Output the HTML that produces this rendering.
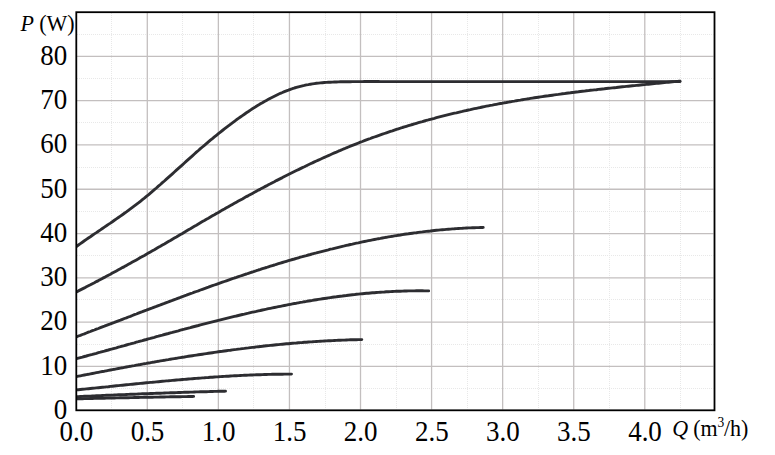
<!DOCTYPE html>
<html><head><meta charset="utf-8"><style>
html,body{margin:0;padding:0;background:#fff;}
svg{display:block;}
.t{font-family:"Liberation Serif",serif;font-size:27px;fill:#000;}
.u{font-family:"Liberation Serif",serif;font-size:22px;fill:#000;}
.mi{stroke:#e8e8e8;stroke-width:1;stroke-dasharray:1 1;}
.ma{stroke:#c3bfbf;stroke-width:1.3;}
.c{fill:none;stroke:#2d2d31;stroke-width:2.9;stroke-linecap:round;stroke-linejoin:round;}
</style></head><body>
<svg width="775" height="455" viewBox="0 0 775 455">
<line class="mi" x1="111.5" y1="13" x2="111.5" y2="409.5"/>
<line class="mi" x1="182.5" y1="13" x2="182.5" y2="409.5"/>
<line class="mi" x1="253.5" y1="13" x2="253.5" y2="409.5"/>
<line class="mi" x1="325.5" y1="13" x2="325.5" y2="409.5"/>
<line class="mi" x1="396.5" y1="13" x2="396.5" y2="409.5"/>
<line class="mi" x1="467.5" y1="13" x2="467.5" y2="409.5"/>
<line class="mi" x1="538.5" y1="13" x2="538.5" y2="409.5"/>
<line class="mi" x1="609.5" y1="13" x2="609.5" y2="409.5"/>
<line class="mi" x1="680.5" y1="13" x2="680.5" y2="409.5"/>
<line class="mi" x1="77" y1="388.5" x2="713.5" y2="388.5"/>
<line class="mi" x1="77" y1="344.5" x2="713.5" y2="344.5"/>
<line class="mi" x1="77" y1="299.5" x2="713.5" y2="299.5"/>
<line class="mi" x1="77" y1="255.5" x2="713.5" y2="255.5"/>
<line class="mi" x1="77" y1="211.5" x2="713.5" y2="211.5"/>
<line class="mi" x1="77" y1="167.5" x2="713.5" y2="167.5"/>
<line class="mi" x1="77" y1="122.5" x2="713.5" y2="122.5"/>
<line class="mi" x1="77" y1="78.5" x2="713.5" y2="78.5"/>
<line class="mi" x1="77" y1="34.5" x2="713.5" y2="34.5"/>
<line class="ma" x1="147.3" y1="13" x2="147.3" y2="409.5"/>
<line class="ma" x1="218.37" y1="13" x2="218.37" y2="409.5"/>
<line class="ma" x1="289.44" y1="13" x2="289.44" y2="409.5"/>
<line class="ma" x1="360.51" y1="13" x2="360.51" y2="409.5"/>
<line class="ma" x1="431.58" y1="13" x2="431.58" y2="409.5"/>
<line class="ma" x1="502.65" y1="13" x2="502.65" y2="409.5"/>
<line class="ma" x1="573.72" y1="13" x2="573.72" y2="409.5"/>
<line class="ma" x1="644.79" y1="13" x2="644.79" y2="409.5"/>
<line class="ma" x1="77" y1="366.4" x2="713.5" y2="366.4"/>
<line class="ma" x1="77" y1="322.12" x2="713.5" y2="322.12"/>
<line class="ma" x1="77" y1="277.83" x2="713.5" y2="277.83"/>
<line class="ma" x1="77" y1="233.55" x2="713.5" y2="233.55"/>
<line class="ma" x1="77" y1="189.26" x2="713.5" y2="189.26"/>
<line class="ma" x1="77" y1="144.97" x2="713.5" y2="144.97"/>
<line class="ma" x1="77" y1="100.69" x2="713.5" y2="100.69"/>
<line class="ma" x1="77" y1="56.4" x2="713.5" y2="56.4"/>
<defs><clipPath id="cp"><rect x="76.4" y="0" width="700" height="455"/></clipPath></defs>
<g clip-path="url(#cp)">
<path class="c" d="M76.4,246.5 L78.4,245.0 L80.4,243.6 L82.4,242.2 L84.4,240.8 L86.4,239.4 L88.4,238.0 L90.4,236.7 L92.4,235.3 L94.4,233.9 L96.4,232.6 L98.4,231.2 L100.4,229.9 L102.4,228.5 L104.4,227.1 L106.4,225.8 L108.4,224.4 L110.4,223.1 L112.4,221.7 L114.4,220.3 L116.4,218.9 L118.4,217.5 L120.4,216.1 L122.4,214.7 L124.4,213.3 L126.4,211.9 L128.4,210.4 L130.4,208.9 L132.4,207.4 L134.4,205.9 L136.4,204.4 L138.4,202.9 L140.4,201.3 L142.4,199.7 L144.4,198.1 L146.4,196.4 L148.4,194.8 L150.4,193.1 L152.4,191.4 L154.4,189.7 L156.4,188.0 L158.4,186.2 L160.4,184.5 L162.4,182.7 L164.4,181.0 L166.4,179.2 L168.4,177.4 L170.4,175.6 L172.4,173.8 L174.4,172.0 L176.4,170.2 L178.4,168.4 L180.4,166.6 L182.4,164.8 L184.4,163.0 L186.4,161.2 L188.4,159.4 L190.4,157.6 L192.4,155.8 L194.4,154.0 L196.4,152.2 L198.4,150.5 L200.4,148.7 L202.4,147.0 L204.4,145.3 L206.4,143.6 L208.4,141.9 L210.4,140.2 L212.4,138.6 L214.4,136.9 L216.4,135.3 L218.4,133.7 L220.4,132.1 L222.4,130.5 L224.4,128.9 L226.4,127.3 L228.4,125.8 L230.4,124.3 L232.4,122.8 L234.4,121.3 L236.4,119.8 L238.4,118.4 L240.4,117.0 L242.4,115.6 L244.4,114.2 L246.4,112.8 L248.4,111.5 L250.4,110.1 L252.4,108.8 L254.4,107.6 L256.4,106.3 L258.4,105.1 L260.4,103.8 L262.4,102.7 L264.4,101.5 L266.4,100.4 L268.4,99.3 L270.4,98.2 L272.4,97.2 L274.4,96.2 L276.4,95.2 L278.4,94.2 L280.4,93.3 L282.4,92.5 L284.4,91.6 L286.4,90.8 L288.4,90.1 L290.4,89.3 L292.4,88.7 L294.4,88.0 L296.4,87.4 L298.4,86.8 L300.4,86.3 L302.4,85.8 L304.4,85.4 L306.4,84.9 L308.4,84.6 L310.4,84.2 L312.4,83.9 L314.4,83.6 L316.4,83.3 L318.4,83.1 L320.4,82.9 L322.4,82.7 L324.4,82.5 L326.4,82.4 L328.4,82.3 L330.4,82.2 L332.4,82.1 L334.4,82.0 L336.4,82.0 L338.4,81.9 L340.4,81.8 L342.4,81.8 L344.4,81.8 L346.4,81.7 L348.4,81.7 L350.4,81.7 L352.4,81.6 L354.4,81.6 L356.4,81.6 L358.4,81.6 L360.4,81.6 L362.4,81.6 L364.4,81.5 L366.4,81.5 L368.4,81.5 L370.4,81.5 L372.4,81.5 L374.4,81.5 L376.4,81.5 L378.4,81.5 L380.4,81.6 L382.4,81.6 L384.4,81.6 L386.4,81.6 L388.4,81.6 L390.4,81.6 L392.4,81.6 L394.4,81.6 L396.4,81.6 L398.4,81.6 L400.0,81.6 L680,81.6"/>
<path class="c" d="M76.4,292.0 L78.4,290.9 L80.4,289.9 L82.4,288.9 L84.4,287.9 L86.4,286.8 L88.4,285.8 L90.4,284.8 L92.4,283.7 L94.4,282.7 L96.4,281.6 L98.4,280.6 L100.4,279.5 L102.4,278.4 L104.4,277.4 L106.4,276.3 L108.4,275.2 L110.4,274.2 L112.4,273.1 L114.4,272.0 L116.4,270.9 L118.4,269.8 L120.4,268.7 L122.4,267.6 L124.4,266.6 L126.4,265.4 L128.4,264.3 L130.4,263.2 L132.4,262.1 L134.4,261.0 L136.4,259.9 L138.4,258.8 L140.4,257.6 L142.4,256.5 L144.4,255.4 L146.4,254.2 L148.4,253.1 L150.4,251.9 L152.4,250.8 L154.4,249.7 L156.4,248.5 L158.4,247.3 L160.4,246.2 L162.4,245.0 L164.4,243.9 L166.4,242.7 L168.4,241.5 L170.4,240.4 L172.4,239.2 L174.4,238.0 L176.4,236.9 L178.4,235.7 L180.4,234.5 L182.4,233.4 L184.4,232.2 L186.4,231.0 L188.4,229.8 L190.4,228.7 L192.4,227.5 L194.4,226.3 L196.4,225.2 L198.4,224.0 L200.4,222.8 L202.4,221.6 L204.4,220.5 L206.4,219.3 L208.4,218.2 L210.4,217.0 L212.4,215.8 L214.4,214.7 L216.4,213.5 L218.4,212.4 L220.4,211.2 L222.4,210.1 L224.4,209.0 L226.4,207.8 L228.4,206.7 L230.4,205.6 L232.4,204.4 L234.4,203.3 L236.4,202.2 L238.4,201.1 L240.4,200.0 L242.4,198.9 L244.4,197.7 L246.4,196.6 L248.4,195.6 L250.4,194.5 L252.4,193.4 L254.4,192.3 L256.4,191.2 L258.4,190.1 L260.4,189.1 L262.4,188.0 L264.4,186.9 L266.4,185.9 L268.4,184.8 L270.4,183.8 L272.4,182.7 L274.4,181.7 L276.4,180.6 L278.4,179.6 L280.4,178.6 L282.4,177.6 L284.4,176.5 L286.4,175.5 L288.4,174.5 L290.4,173.5 L292.4,172.5 L294.4,171.5 L296.4,170.5 L298.4,169.6 L300.4,168.6 L302.4,167.6 L304.4,166.7 L306.4,165.7 L308.4,164.7 L310.4,163.8 L312.4,162.9 L314.4,161.9 L316.4,161.0 L318.4,160.1 L320.4,159.2 L322.4,158.3 L324.4,157.4 L326.4,156.5 L328.4,155.6 L330.4,154.7 L332.4,153.8 L334.4,152.9 L336.4,152.1 L338.4,151.2 L340.4,150.4 L342.4,149.5 L344.4,148.7 L346.4,147.8 L348.4,147.0 L350.4,146.2 L352.4,145.4 L354.4,144.6 L356.4,143.8 L358.4,143.0 L360.4,142.2 L362.4,141.5 L364.4,140.7 L366.4,139.9 L368.4,139.2 L370.4,138.5 L372.4,137.7 L374.4,137.0 L376.4,136.3 L378.4,135.6 L380.4,134.9 L382.4,134.2 L384.4,133.5 L386.4,132.8 L388.4,132.1 L390.4,131.4 L392.4,130.8 L394.4,130.1 L396.4,129.4 L398.4,128.8 L400.4,128.2 L402.4,127.5 L404.4,126.9 L406.4,126.3 L408.4,125.7 L410.4,125.1 L412.4,124.5 L414.4,123.9 L416.4,123.3 L418.4,122.7 L420.4,122.1 L422.4,121.6 L424.4,121.0 L426.4,120.4 L428.4,119.9 L430.4,119.3 L432.4,118.8 L434.4,118.3 L436.4,117.7 L438.4,117.2 L440.4,116.7 L442.4,116.2 L444.4,115.7 L446.4,115.2 L448.4,114.7 L450.4,114.2 L452.4,113.7 L454.4,113.2 L456.4,112.8 L458.4,112.3 L460.4,111.8 L462.4,111.4 L464.4,110.9 L466.4,110.5 L468.4,110.0 L470.4,109.6 L472.4,109.1 L474.4,108.7 L476.4,108.3 L478.4,107.9 L480.4,107.5 L482.4,107.0 L484.4,106.6 L486.4,106.2 L488.4,105.8 L490.4,105.4 L492.4,105.1 L494.4,104.7 L496.4,104.3 L498.4,103.9 L500.4,103.5 L502.4,103.2 L504.4,102.8 L506.4,102.5 L508.4,102.1 L510.4,101.8 L512.4,101.4 L514.4,101.1 L516.4,100.7 L518.4,100.4 L520.4,100.1 L522.4,99.7 L524.4,99.4 L526.4,99.1 L528.4,98.8 L530.4,98.4 L532.4,98.1 L534.4,97.8 L536.4,97.5 L538.4,97.2 L540.4,96.9 L542.4,96.6 L544.4,96.3 L546.4,96.0 L548.4,95.8 L550.4,95.5 L552.4,95.2 L554.4,94.9 L556.4,94.6 L558.4,94.4 L560.4,94.1 L562.4,93.8 L564.4,93.6 L566.4,93.3 L568.4,93.0 L570.4,92.8 L572.4,92.5 L574.4,92.3 L576.4,92.0 L578.4,91.8 L580.4,91.5 L582.4,91.3 L584.4,91.1 L586.4,90.8 L588.4,90.6 L590.4,90.3 L592.4,90.1 L594.4,89.9 L596.4,89.7 L598.4,89.4 L600.4,89.2 L602.4,89.0 L604.4,88.8 L606.4,88.5 L608.4,88.3 L610.4,88.1 L612.4,87.9 L614.4,87.7 L616.4,87.5 L618.4,87.2 L620.4,87.0 L622.4,86.8 L624.4,86.6 L626.4,86.4 L628.4,86.2 L630.4,86.0 L632.4,85.8 L634.4,85.6 L636.4,85.4 L638.4,85.2 L640.4,85.0 L642.4,84.8 L644.4,84.6 L646.4,84.4 L648.4,84.2 L650.4,84.0 L652.4,83.8 L654.4,83.6 L656.4,83.4 L658.4,83.2 L660.4,83.0 L662.4,82.8 L664.4,82.6 L666.4,82.4 L668.4,82.2 L670.4,82.0 L672.4,81.8 L674.4,81.6 L676.4,81.4 L678.4,81.3 L680.0,81.1"/>
<path class="c" d="M76.4,336.8 L78.4,336.0 L80.4,335.3 L82.4,334.5 L84.4,333.8 L86.4,333.0 L88.4,332.2 L90.4,331.5 L92.4,330.7 L94.4,330.0 L96.4,329.2 L98.4,328.5 L100.4,327.7 L102.4,326.9 L104.4,326.2 L106.4,325.4 L108.4,324.6 L110.4,323.9 L112.4,323.1 L114.4,322.4 L116.4,321.6 L118.4,320.8 L120.4,320.1 L122.4,319.3 L124.4,318.5 L126.4,317.8 L128.4,317.0 L130.4,316.3 L132.4,315.5 L134.4,314.7 L136.4,314.0 L138.4,313.2 L140.4,312.4 L142.4,311.7 L144.4,310.9 L146.4,310.2 L148.4,309.4 L150.4,308.6 L152.4,307.9 L154.4,307.1 L156.4,306.4 L158.4,305.6 L160.4,304.9 L162.4,304.1 L164.4,303.4 L166.4,302.6 L168.4,301.9 L170.4,301.1 L172.4,300.4 L174.4,299.6 L176.4,298.9 L178.4,298.1 L180.4,297.4 L182.4,296.6 L184.4,295.9 L186.4,295.2 L188.4,294.4 L190.4,293.7 L192.4,293.0 L194.4,292.2 L196.4,291.5 L198.4,290.8 L200.4,290.0 L202.4,289.3 L204.4,288.6 L206.4,287.9 L208.4,287.2 L210.4,286.4 L212.4,285.7 L214.4,285.0 L216.4,284.3 L218.4,283.6 L220.4,282.9 L222.4,282.2 L224.4,281.5 L226.4,280.8 L228.4,280.1 L230.4,279.4 L232.4,278.7 L234.4,278.0 L236.4,277.4 L238.4,276.7 L240.4,276.0 L242.4,275.3 L244.4,274.6 L246.4,274.0 L248.4,273.3 L250.4,272.6 L252.4,272.0 L254.4,271.3 L256.4,270.7 L258.4,270.0 L260.4,269.4 L262.4,268.7 L264.4,268.1 L266.4,267.5 L268.4,266.8 L270.4,266.2 L272.4,265.6 L274.4,265.0 L276.4,264.3 L278.4,263.7 L280.4,263.1 L282.4,262.5 L284.4,261.9 L286.4,261.3 L288.4,260.7 L290.4,260.1 L292.4,259.5 L294.4,259.0 L296.4,258.4 L298.4,257.8 L300.4,257.2 L302.4,256.7 L304.4,256.1 L306.4,255.6 L308.4,255.0 L310.4,254.5 L312.4,253.9 L314.4,253.4 L316.4,252.9 L318.4,252.3 L320.4,251.8 L322.4,251.3 L324.4,250.8 L326.4,250.3 L328.4,249.8 L330.4,249.2 L332.4,248.8 L334.4,248.3 L336.4,247.8 L338.4,247.3 L340.4,246.8 L342.4,246.3 L344.4,245.9 L346.4,245.4 L348.4,245.0 L350.4,244.5 L352.4,244.1 L354.4,243.6 L356.4,243.2 L358.4,242.8 L360.4,242.3 L362.4,241.9 L364.4,241.5 L366.4,241.1 L368.4,240.7 L370.4,240.3 L372.4,239.9 L374.4,239.5 L376.4,239.1 L378.4,238.7 L380.4,238.4 L382.4,238.0 L384.4,237.6 L386.4,237.3 L388.4,236.9 L390.4,236.6 L392.4,236.3 L394.4,235.9 L396.4,235.6 L398.4,235.3 L400.4,235.0 L402.4,234.6 L404.4,234.3 L406.4,234.0 L408.4,233.8 L410.4,233.5 L412.4,233.2 L414.4,232.9 L416.4,232.7 L418.4,232.4 L420.4,232.1 L422.4,231.9 L424.4,231.6 L426.4,231.4 L428.4,231.2 L430.4,231.0 L432.4,230.7 L434.4,230.5 L436.4,230.3 L438.4,230.1 L440.4,229.9 L442.4,229.7 L444.4,229.6 L446.4,229.4 L448.4,229.2 L450.4,229.1 L452.4,228.9 L454.4,228.8 L456.4,228.6 L458.4,228.5 L460.4,228.4 L462.4,228.3 L464.4,228.1 L466.4,228.0 L468.4,227.9 L470.4,227.9 L472.4,227.8 L474.4,227.7 L476.4,227.6 L478.4,227.6 L480.4,227.5 L482.4,227.5 L483.2,227.4"/>
<path class="c" d="M76.4,358.7 L78.4,358.1 L80.4,357.6 L82.4,357.1 L84.4,356.5 L86.4,356.0 L88.4,355.4 L90.4,354.9 L92.4,354.4 L94.4,353.8 L96.4,353.3 L98.4,352.7 L100.4,352.2 L102.4,351.6 L104.4,351.1 L106.4,350.5 L108.4,350.0 L110.4,349.4 L112.4,348.9 L114.4,348.3 L116.4,347.8 L118.4,347.2 L120.4,346.7 L122.4,346.1 L124.4,345.6 L126.4,345.0 L128.4,344.4 L130.4,343.9 L132.4,343.3 L134.4,342.8 L136.4,342.2 L138.4,341.7 L140.4,341.1 L142.4,340.6 L144.4,340.0 L146.4,339.5 L148.4,338.9 L150.4,338.4 L152.4,337.8 L154.4,337.3 L156.4,336.7 L158.4,336.2 L160.4,335.6 L162.4,335.1 L164.4,334.5 L166.4,334.0 L168.4,333.5 L170.4,332.9 L172.4,332.4 L174.4,331.8 L176.4,331.3 L178.4,330.8 L180.4,330.2 L182.4,329.7 L184.4,329.2 L186.4,328.6 L188.4,328.1 L190.4,327.6 L192.4,327.0 L194.4,326.5 L196.4,326.0 L198.4,325.5 L200.4,324.9 L202.4,324.4 L204.4,323.9 L206.4,323.4 L208.4,322.9 L210.4,322.4 L212.4,321.9 L214.4,321.4 L216.4,320.9 L218.4,320.4 L220.4,319.9 L222.4,319.4 L224.4,318.9 L226.4,318.4 L228.4,317.9 L230.4,317.4 L232.4,316.9 L234.4,316.4 L236.4,316.0 L238.4,315.5 L240.4,315.0 L242.4,314.5 L244.4,314.1 L246.4,313.6 L248.4,313.2 L250.4,312.7 L252.4,312.2 L254.4,311.8 L256.4,311.4 L258.4,310.9 L260.4,310.5 L262.4,310.0 L264.4,309.6 L266.4,309.2 L268.4,308.7 L270.4,308.3 L272.4,307.9 L274.4,307.5 L276.4,307.1 L278.4,306.7 L280.4,306.3 L282.4,305.9 L284.4,305.5 L286.4,305.1 L288.4,304.7 L290.4,304.3 L292.4,303.9 L294.4,303.5 L296.4,303.2 L298.4,302.8 L300.4,302.4 L302.4,302.1 L304.4,301.7 L306.4,301.4 L308.4,301.0 L310.4,300.7 L312.4,300.4 L314.4,300.0 L316.4,299.7 L318.4,299.4 L320.4,299.1 L322.4,298.8 L324.4,298.5 L326.4,298.2 L328.4,297.9 L330.4,297.6 L332.4,297.3 L334.4,297.0 L336.4,296.8 L338.4,296.5 L340.4,296.2 L342.4,296.0 L344.4,295.7 L346.4,295.5 L348.4,295.2 L350.4,295.0 L352.4,294.8 L354.4,294.6 L356.4,294.3 L358.4,294.1 L360.4,293.9 L362.4,293.7 L364.4,293.5 L366.4,293.3 L368.4,293.2 L370.4,293.0 L372.4,292.8 L374.4,292.7 L376.4,292.5 L378.4,292.4 L380.4,292.2 L382.4,292.1 L384.4,292.0 L386.4,291.8 L388.4,291.7 L390.4,291.6 L392.4,291.5 L394.4,291.4 L396.4,291.3 L398.4,291.2 L400.4,291.2 L402.4,291.1 L404.4,291.0 L406.4,291.0 L408.4,290.9 L410.4,290.9 L412.4,290.9 L414.4,290.9 L416.4,290.8 L418.4,290.8 L420.4,290.8 L422.4,290.8 L424.4,290.9 L426.4,290.9 L428.4,290.9 L428.7,290.9"/>
<path class="c" d="M76.4,376.6 L78.4,376.2 L80.4,375.8 L82.4,375.4 L84.4,375.0 L86.4,374.6 L88.4,374.3 L90.4,373.9 L92.4,373.5 L94.4,373.1 L96.4,372.7 L98.4,372.3 L100.4,371.9 L102.4,371.5 L104.4,371.2 L106.4,370.8 L108.4,370.4 L110.4,370.0 L112.4,369.6 L114.4,369.3 L116.4,368.9 L118.4,368.5 L120.4,368.1 L122.4,367.8 L124.4,367.4 L126.4,367.0 L128.4,366.6 L130.4,366.3 L132.4,365.9 L134.4,365.6 L136.4,365.2 L138.4,364.8 L140.4,364.5 L142.4,364.1 L144.4,363.7 L146.4,363.4 L148.4,363.0 L150.4,362.7 L152.4,362.3 L154.4,362.0 L156.4,361.6 L158.4,361.3 L160.4,360.9 L162.4,360.6 L164.4,360.3 L166.4,359.9 L168.4,359.6 L170.4,359.2 L172.4,358.9 L174.4,358.6 L176.4,358.3 L178.4,357.9 L180.4,357.6 L182.4,357.3 L184.4,357.0 L186.4,356.6 L188.4,356.3 L190.4,356.0 L192.4,355.7 L194.4,355.4 L196.4,355.1 L198.4,354.8 L200.4,354.5 L202.4,354.2 L204.4,353.9 L206.4,353.6 L208.4,353.3 L210.4,353.0 L212.4,352.7 L214.4,352.4 L216.4,352.1 L218.4,351.8 L220.4,351.5 L222.4,351.3 L224.4,351.0 L226.4,350.7 L228.4,350.4 L230.4,350.2 L232.4,349.9 L234.4,349.6 L236.4,349.4 L238.4,349.1 L240.4,348.9 L242.4,348.6 L244.4,348.4 L246.4,348.1 L248.4,347.9 L250.4,347.6 L252.4,347.4 L254.4,347.2 L256.4,346.9 L258.4,346.7 L260.4,346.5 L262.4,346.3 L264.4,346.0 L266.4,345.8 L268.4,345.6 L270.4,345.4 L272.4,345.2 L274.4,345.0 L276.4,344.8 L278.4,344.6 L280.4,344.4 L282.4,344.2 L284.4,344.0 L286.4,343.8 L288.4,343.7 L290.4,343.5 L292.4,343.3 L294.4,343.1 L296.4,343.0 L298.4,342.8 L300.4,342.6 L302.4,342.5 L304.4,342.3 L306.4,342.2 L308.4,342.0 L310.4,341.9 L312.4,341.8 L314.4,341.6 L316.4,341.5 L318.4,341.4 L320.4,341.2 L322.4,341.1 L324.4,341.0 L326.4,340.9 L328.4,340.8 L330.4,340.7 L332.4,340.6 L334.4,340.5 L336.4,340.4 L338.4,340.3 L340.4,340.2 L342.4,340.1 L344.4,340.1 L346.4,340.0 L348.4,339.9 L350.4,339.8 L352.4,339.8 L354.4,339.7 L356.4,339.7 L358.4,339.6 L360.4,339.6 L361.8,339.6"/>
<path class="c" d="M76.4,389.9 L78.4,389.7 L80.4,389.5 L82.4,389.3 L84.4,389.1 L86.4,388.9 L88.4,388.7 L90.4,388.5 L92.4,388.3 L94.4,388.1 L96.4,387.9 L98.4,387.7 L100.4,387.5 L102.4,387.3 L104.4,387.1 L106.4,386.9 L108.4,386.7 L110.4,386.4 L112.4,386.2 L114.4,386.0 L116.4,385.8 L118.4,385.6 L120.4,385.4 L122.4,385.2 L124.4,385.0 L126.4,384.8 L128.4,384.6 L130.4,384.4 L132.4,384.2 L134.4,384.0 L136.4,383.8 L138.4,383.6 L140.4,383.4 L142.4,383.2 L144.4,383.0 L146.4,382.8 L148.4,382.6 L150.4,382.4 L152.4,382.3 L154.4,382.1 L156.4,381.9 L158.4,381.7 L160.4,381.5 L162.4,381.3 L164.4,381.1 L166.4,380.9 L168.4,380.8 L170.4,380.6 L172.4,380.4 L174.4,380.2 L176.4,380.0 L178.4,379.9 L180.4,379.7 L182.4,379.5 L184.4,379.4 L186.4,379.2 L188.4,379.0 L190.4,378.9 L192.4,378.7 L194.4,378.5 L196.4,378.4 L198.4,378.2 L200.4,378.1 L202.4,377.9 L204.4,377.8 L206.4,377.6 L208.4,377.5 L210.4,377.3 L212.4,377.2 L214.4,377.0 L216.4,376.9 L218.4,376.8 L220.4,376.6 L222.4,376.5 L224.4,376.4 L226.4,376.3 L228.4,376.2 L230.4,376.0 L232.4,375.9 L234.4,375.8 L236.4,375.7 L238.4,375.6 L240.4,375.5 L242.4,375.4 L244.4,375.3 L246.4,375.2 L248.4,375.1 L250.4,375.0 L252.4,375.0 L254.4,374.9 L256.4,374.8 L258.4,374.7 L260.4,374.7 L262.4,374.6 L264.4,374.5 L266.4,374.5 L268.4,374.4 L270.4,374.4 L272.4,374.3 L274.4,374.3 L276.4,374.2 L278.4,374.2 L280.4,374.2 L282.4,374.2 L284.4,374.1 L286.4,374.1 L288.4,374.1 L290.4,374.1 L291.5,374.1"/>
<path class="c" d="M76.4,396.7 L78.4,396.6 L80.4,396.5 L82.4,396.4 L84.4,396.3 L86.4,396.3 L88.4,396.2 L90.4,396.1 L92.4,396.0 L94.4,395.9 L96.4,395.8 L98.4,395.7 L100.4,395.6 L102.4,395.5 L104.4,395.4 L106.4,395.3 L108.4,395.3 L110.4,395.2 L112.4,395.1 L114.4,395.0 L116.4,394.9 L118.4,394.8 L120.4,394.7 L122.4,394.6 L124.4,394.6 L126.4,394.5 L128.4,394.4 L130.4,394.3 L132.4,394.2 L134.4,394.2 L136.4,394.1 L138.4,394.0 L140.4,393.9 L142.4,393.8 L144.4,393.8 L146.4,393.7 L148.4,393.6 L150.4,393.5 L152.4,393.5 L154.4,393.4 L156.4,393.3 L158.4,393.2 L160.4,393.2 L162.4,393.1 L164.4,393.0 L166.4,392.9 L168.4,392.9 L170.4,392.8 L172.4,392.7 L174.4,392.7 L176.4,392.6 L178.4,392.5 L180.4,392.5 L182.4,392.4 L184.4,392.3 L186.4,392.3 L188.4,392.2 L190.4,392.1 L192.4,392.1 L194.4,392.0 L196.4,391.9 L198.4,391.9 L200.4,391.8 L202.4,391.8 L204.4,391.7 L206.4,391.7 L208.4,391.6 L210.4,391.5 L212.4,391.5 L214.4,391.4 L216.4,391.4 L218.4,391.3 L220.4,391.3 L222.4,391.2 L224.4,391.2 L225.5,391.1"/>
<path class="c" d="M76.4,398.8 L78.4,398.8 L80.4,398.7 L82.4,398.7 L84.4,398.6 L86.4,398.6 L88.4,398.6 L90.4,398.5 L92.4,398.5 L94.4,398.4 L96.4,398.4 L98.4,398.3 L100.4,398.3 L102.4,398.2 L104.4,398.2 L106.4,398.1 L108.4,398.1 L110.4,398.1 L112.4,398.0 L114.4,398.0 L116.4,397.9 L118.4,397.9 L120.4,397.8 L122.4,397.8 L124.4,397.8 L126.4,397.7 L128.4,397.7 L130.4,397.6 L132.4,397.6 L134.4,397.5 L136.4,397.5 L138.4,397.5 L140.4,397.4 L142.4,397.4 L144.4,397.3 L146.4,397.3 L148.4,397.3 L150.4,397.2 L152.4,397.2 L154.4,397.1 L156.4,397.1 L158.4,397.1 L160.4,397.0 L162.4,397.0 L164.4,397.0 L166.4,396.9 L168.4,396.9 L170.4,396.8 L172.4,396.8 L174.4,396.8 L176.4,396.7 L178.4,396.7 L180.4,396.7 L182.4,396.6 L184.4,396.6 L186.4,396.6 L188.4,396.5 L190.4,396.5 L192.4,396.5 L193.6,396.4"/>
</g>
<rect x="76.3" y="12.2" width="638.2" height="398.1" fill="none" stroke="#000" stroke-width="1.8"/>
<text class="t" transform="translate(67.2,419.0) scale(1,1.055)" text-anchor="end">0</text>
<text class="t" transform="translate(67.2,374.7) scale(1,1.055)" text-anchor="end">10</text>
<text class="t" transform="translate(67.2,330.4) scale(1,1.055)" text-anchor="end">20</text>
<text class="t" transform="translate(67.2,286.1) scale(1,1.055)" text-anchor="end">30</text>
<text class="t" transform="translate(67.2,241.8) scale(1,1.055)" text-anchor="end">40</text>
<text class="t" transform="translate(67.2,197.6) scale(1,1.055)" text-anchor="end">50</text>
<text class="t" transform="translate(67.2,153.3) scale(1,1.055)" text-anchor="end">60</text>
<text class="t" transform="translate(67.2,109.0) scale(1,1.055)" text-anchor="end">70</text>
<text class="t" transform="translate(67.2,64.7) scale(1,1.055)" text-anchor="end">80</text>
<text class="t" transform="translate(76.4,441.2) scale(1,1.055)" text-anchor="middle">0.0</text>
<text class="t" transform="translate(147.5,441.2) scale(1,1.055)" text-anchor="middle">0.5</text>
<text class="t" transform="translate(218.6,441.2) scale(1,1.055)" text-anchor="middle">1.0</text>
<text class="t" transform="translate(289.6,441.2) scale(1,1.055)" text-anchor="middle">1.5</text>
<text class="t" transform="translate(360.7,441.2) scale(1,1.055)" text-anchor="middle">2.0</text>
<text class="t" transform="translate(431.8,441.2) scale(1,1.055)" text-anchor="middle">2.5</text>
<text class="t" transform="translate(502.8,441.2) scale(1,1.055)" text-anchor="middle">3.0</text>
<text class="t" transform="translate(573.9,441.2) scale(1,1.055)" text-anchor="middle">3.5</text>
<text class="t" transform="translate(645.0,441.2) scale(1,1.055)" text-anchor="middle">4.0</text>
<g transform="translate(0,30.6) scale(1,1.03)"><text class="u" x="20.6" y="0" font-style="italic">P</text><text class="u" x="39.2" y="0">(W)</text></g>
<g transform="translate(0,435.8) scale(1,1.02)"><text class="u" x="672.2" y="0" font-style="italic">Q</text><text class="u" x="693.2" y="0">(m</text><text class="u" x="717.4" y="-8.6" style="font-size:13.5px">3</text><text class="u" x="724" y="0">/h)</text></g>
</svg>
</body></html>
